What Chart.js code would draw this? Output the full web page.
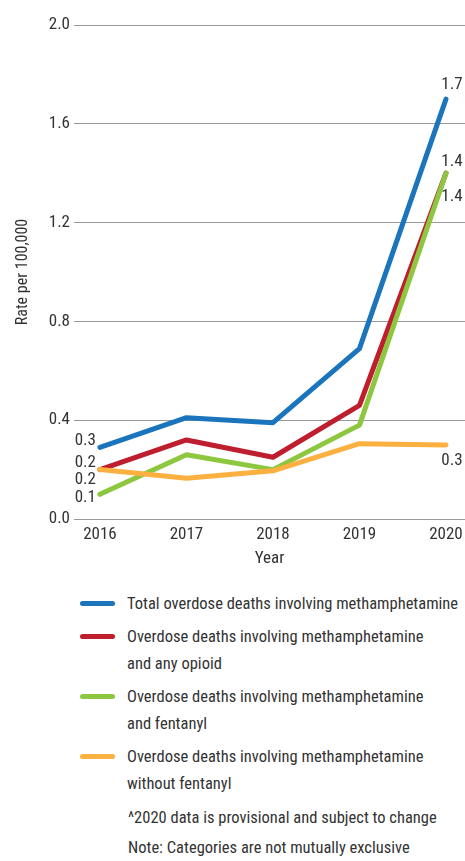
<!DOCTYPE html>
<html>
<head>
<meta charset="utf-8">
<script src="https://cdn.jsdelivr.net/npm/chart.js@4.4.1/dist/chart.umd.min.js"></script>
<style>
  body { margin: 0; background: #fff; }
  #wrap { position: relative; width: 465px; height: 861px; font-family: 'Roboto Condensed', sans-serif; color: #333; }
  #chartBox { position: absolute; left: 0; top: 0; width: 465px; height: 580px; }
  #legend { position: absolute; left: 80px; top: 590px; font-size: 16.5px; line-height: 27px; white-space: nowrap; }
  .item { display: flex; align-items: flex-start; margin-bottom: 6px; }
  .sw { width: 35px; height: 5px; border-radius: 3px; margin-top: 11px; margin-right: 12px; flex: none; }
  .note { position: absolute; left: 128px; font-size: 16.5px; white-space: nowrap; }
</style>
</head>
<body>
<div id="wrap">
  <div id="chartBox"><canvas id="c"></canvas></div>
  <div id="legend"></div>
  <div class="note" style="top:808px">^2020 data is provisional and subject to change</div>
  <div class="note" style="top:838px">Note: Categories are not mutually exclusive</div>
</div>
<script>
const years = [2016, 2017, 2018, 2019, 2020];
const totalMeth = [0.29, 0.41, 0.39, 0.69, 1.70];
const methOpioid = [0.20, 0.32, 0.25, 0.46, 1.40];
const methFentanyl = [0.10, 0.26, 0.20, 0.38, 1.40];
const methNoFentanyl = [0.20, 0.165, 0.195, 0.305, 0.30];
const seriesLabels = [
  ['Total overdose deaths involving methamphetamine'],
  ['Overdose deaths involving methamphetamine', 'and any opioid'],
  ['Overdose deaths involving methamphetamine', 'and fentanyl'],
  ['Overdose deaths involving methamphetamine', 'without fentanyl']
];
const colors = ['#1b75bc', '#be1e2d', '#8dc63f', '#fbb040'];
const yTicks = [0, 0.4, 0.8, 1.2, 1.6, 2.0];

const FONT = "'Roboto Condensed', sans-serif";
const series = [totalMeth, methOpioid, methFentanyl, methNoFentanyl];

// label offsets (first point, last point) per series
const labelDy = [[-7, -14], [-7, -11], [3, 24], [10, 16]];

const endLabels = {
  id: 'endLabels',
  afterDatasetsDraw(chart) {
    const ctx = chart.ctx;
    ctx.save();
    ctx.font = '17px ' + FONT;
    ctx.fillStyle = '#333';
    ctx.textBaseline = 'middle';
    chart.data.datasets.forEach((ds, i) => {
      const pts = chart.getDatasetMeta(i).data;
      const first = pts[0], last = pts[pts.length - 1];
      ctx.textAlign = 'right';
      ctx.fillText(ds.data[0].y.toFixed(1), first.x - 4, first.y + labelDy[i][0]);
      ctx.textAlign = 'center';
      ctx.fillText(ds.data[ds.data.length - 1].y.toFixed(1), last.x + 6, last.y + labelDy[i][1]);
    });
    ctx.restore();
  }
};

new Chart(document.getElementById('c'), {
  type: 'line',
  data: {
    datasets: series.map((vals, i) => ({
      label: seriesLabels[i].join(' '),
      data: vals.map((v, j) => ({ x: years[j], y: v })),
      borderColor: colors[i],
      backgroundColor: colors[i],
      borderWidth: 5,
      borderCapStyle: 'round',
      borderJoinStyle: 'round',
      pointRadius: 0,
      tension: 0,
      order: 4 - i
    }))
  },
  options: {
    responsive: true,
    maintainAspectRatio: false,
    animation: false,
    layout: { padding: { top: 25, right: 0, left: 0, bottom: 0 } },
    plugins: { legend: { display: false }, tooltip: { enabled: false } },
    scales: {
      x: {
        type: 'linear',
        min: 2015.7,
        max: 2020.22,
        afterFit: s => { s.height = 61; s.paddingLeft = 0; s.paddingRight = 0; },
        afterBuildTicks: s => { s.ticks = years.map(v => ({ value: v })); },
        grid: { display: false, drawTicks: false },
        border: { display: false },
        ticks: { color: '#333', padding: 6, font: { family: FONT, size: 17 }, callback: v => String(v), maxRotation: 0 },
        title: { display: true, text: 'Year', color: '#333', font: { family: FONT, size: 17 }, padding: { top: 0, bottom: 11 } }
      },
      y: {
        min: 0,
        max: 2,
        afterFit: s => { s.width = 74; },
        afterBuildTicks: s => { s.ticks = yTicks.map(v => ({ value: v })); },
        grid: { color: '#9a9a9a', lineWidth: 1, drawTicks: false },
        border: { display: false },
        ticks: { color: '#333', padding: 4, font: { family: FONT, size: 17 }, callback: v => v.toFixed(1) },
        title: { display: true, text: 'Rate per 100,000', color: '#333', font: { family: FONT, size: 16 }, padding: { top: 13, bottom: 0 } }
      }
    }
  },
  plugins: [endLabels]
});

const legend = document.getElementById('legend');
seriesLabels.forEach((lines, i) => {
  const item = document.createElement('div');
  item.className = 'item';
  const sw = document.createElement('div');
  sw.className = 'sw';
  sw.style.background = colors[i];
  const txt = document.createElement('div');
  txt.innerHTML = lines.join('<br>');
  item.appendChild(sw);
  item.appendChild(txt);
  legend.appendChild(item);
});
</script>
</body>
</html>
